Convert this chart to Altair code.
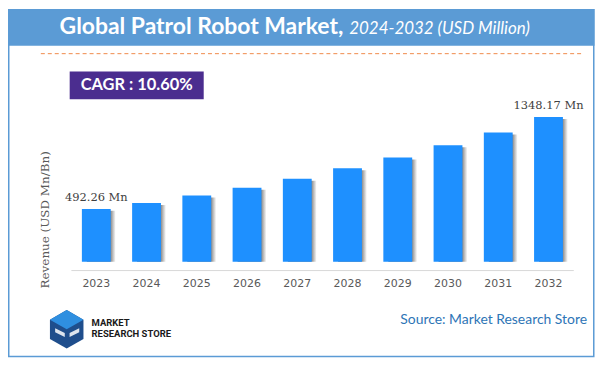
import altair as alt
import pandas as pd

# ---- data ----
years = ["2023", "2024", "2025", "2026", "2027", "2028", "2029", "2030", "2031", "2032"]
revenue = [492.26, 548, 616, 690, 773, 870, 972, 1086, 1204, 1348.17]
labels = ["492.26 Mn", "", "", "", "", "", "", "", "", "1348.17 Mn"]

title_main = "Global Patrol Robot Market,"
title_sub = "2024-2032 (USD Million)"
cagr_text = "CAGR : 10.60%"
y_title = "Revenue (USD Mn/Bn)"
source_text = "Source: Market Research Store"
logo_lines = ["MARKET", "RESEARCH STORE"]

df = pd.DataFrame({"year": years, "revenue": revenue, "label": labels})

W, H = 592, 352
BASE_Y = 263
Y_MIN = -82.6

xscale = alt.Scale(range=[63.5, 568.5], paddingInner=0.426, paddingOuter=0.213)
yscale = alt.Scale(domain=[Y_MIN, 1348.17], range=[BASE_Y, 108.7], zero=False, nice=False)

x_enc = alt.X("year:N", scale=xscale, axis=None, sort=years)
y_enc = alt.Y("revenue:Q", scale=yscale, axis=None)

base = alt.Chart(df)
one = alt.Chart(pd.DataFrame({"k": [0]}))

# frame and title bar
title_bar = one.mark_rect(color="#5B9BD5").encode(
    x=alt.value(0), x2=alt.value(589.5), y=alt.value(0), y2=alt.value(37))
frame = one.mark_rect(fill=None, stroke="#5B9BD5", strokeWidth=1.5).encode(
    x=alt.value(0.75), x2=alt.value(588.75), y=alt.value(0.75), y2=alt.value(349.5))
title1 = one.mark_text(text=title_main, font="Lato", fontWeight="bold", fontSize=23,
                       color="white", align="right", baseline="alphabetic").encode(
    x=alt.value(337), y=alt.value(25.5))
title2 = one.mark_text(text=title_sub, font="Lato", fontStyle="italic", fontSize=17,
                       color="white", align="left", baseline="alphabetic").encode(
    x=alt.value(343), y=alt.value(25.5))
dash = one.mark_rule(color="#F08A4B", strokeDash=[4, 3], strokeWidth=1).encode(
    x=alt.value(33), x2=alt.value(576), y=alt.value(45))

# CAGR box
cagr_box = one.mark_rect(color="#4B2D8F").encode(
    x=alt.value(62), x2=alt.value(196.7), y=alt.value(63), y2=alt.value(90.7))
cagr = one.mark_text(text=cagr_text, font="Lato", fontWeight="bold", fontSize=16.5,
                     color="white", align="center", baseline="middle").encode(
    x=alt.value(129.3), y=alt.value(77))

# bars
shadow = base.mark_bar(
    xOffset=5, yOffset=2,
    color=alt.Gradient(gradient="linear", x1=0, x2=1, y1=0, y2=0,
                       stops=[alt.GradientStop(offset=0, color="#7a7a7a"),
                              alt.GradientStop(offset=0.8, color="#7a7a7a"),
                              alt.GradientStop(offset=1, color="#ffffff")])
).encode(x=x_enc, y=y_enc, y2=alt.value(BASE_Y - 2))
bars = base.mark_bar(color="#1E90FF").encode(x=x_enc, y=y_enc, y2=alt.value(BASE_Y))
value_labels = base.mark_text(font="DejaVu Serif", fontSize=11.5, color="#404040",
                              baseline="alphabetic", dy=-8).encode(
    x=x_enc, y=y_enc, text="label:N")

axis_line = one.mark_rule(color="#D9D9D9", strokeWidth=1).encode(
    x=alt.value(63.7), x2=alt.value(568.7), y=alt.value(BASE_Y))
year_labels = base.mark_text(font="DejaVu Sans", fontSize=11, color="#595959",
                             baseline="middle").encode(
    x=x_enc, y=alt.value(277), text="year:N")
ytitle = one.mark_text(text=y_title, font="DejaVu Serif", fontSize=12, color="#595959",
                       angle=270, align="center", baseline="middle").encode(
    x=alt.value(37), y=alt.value(212))

# source + logo
source = one.mark_text(text=source_text, font="Lato", fontSize=14, color="#2E75B6",
                       align="right", baseline="middle").encode(
    x=alt.value(582), y=alt.value(313))
hexagon = "M 0 -1 L 0.87 -0.5 L 0.87 0.5 L 0 1 L -0.87 0.5 L -0.87 -0.5 Z"
topface = "M 0 -1 L 0.87 -0.5 L 0 0 L -0.87 -0.5 Z"
stripes = "M -0.6 -0.05 L -0.1 0.2 L -0.1 0.4 L -0.6 0.15 Z M 0.15 0.2 L 0.65 -0.05 L 0.65 0.15 L 0.15 0.4 Z"
logo1 = one.mark_point(shape=hexagon, filled=True, color="#1F4E8C", size=1500, opacity=1).encode(
    x=alt.value(59), y=alt.value(322))
logo2 = one.mark_point(shape=topface, filled=True, color="#2F8FE0", size=1500, opacity=1).encode(
    x=alt.value(59), y=alt.value(322))
logo3 = one.mark_point(shape=stripes, filled=True, color="#ffffff", size=1500, opacity=0.85).encode(
    x=alt.value(59), y=alt.value(322))
logo_t1 = one.mark_text(text=logo_lines[0], font="Roboto", fontWeight="bold", fontSize=9.5,
                        color="#1a1a1a", align="left", baseline="middle").encode(
    x=alt.value(84), y=alt.value(315.5))
logo_t2 = one.mark_text(text=logo_lines[1], font="Roboto", fontWeight="bold", fontSize=9.5,
                        color="#1a1a1a", align="left", baseline="middle").encode(
    x=alt.value(84), y=alt.value(326.5))

chart = alt.layer(
    title_bar, frame, title1, title2, dash, cagr_box, cagr,
    shadow, bars, value_labels, axis_line, year_labels, ytitle,
    source, logo1, logo2, logo3, logo_t1, logo_t2
).properties(
    width=W, height=H,
    autosize=alt.AutoSizeParams(type="none"),
    padding=0,
    background="white",
).configure_view(stroke=None)

chart.save("out.html", embed_options={"renderer": "svg", "actions": False})
